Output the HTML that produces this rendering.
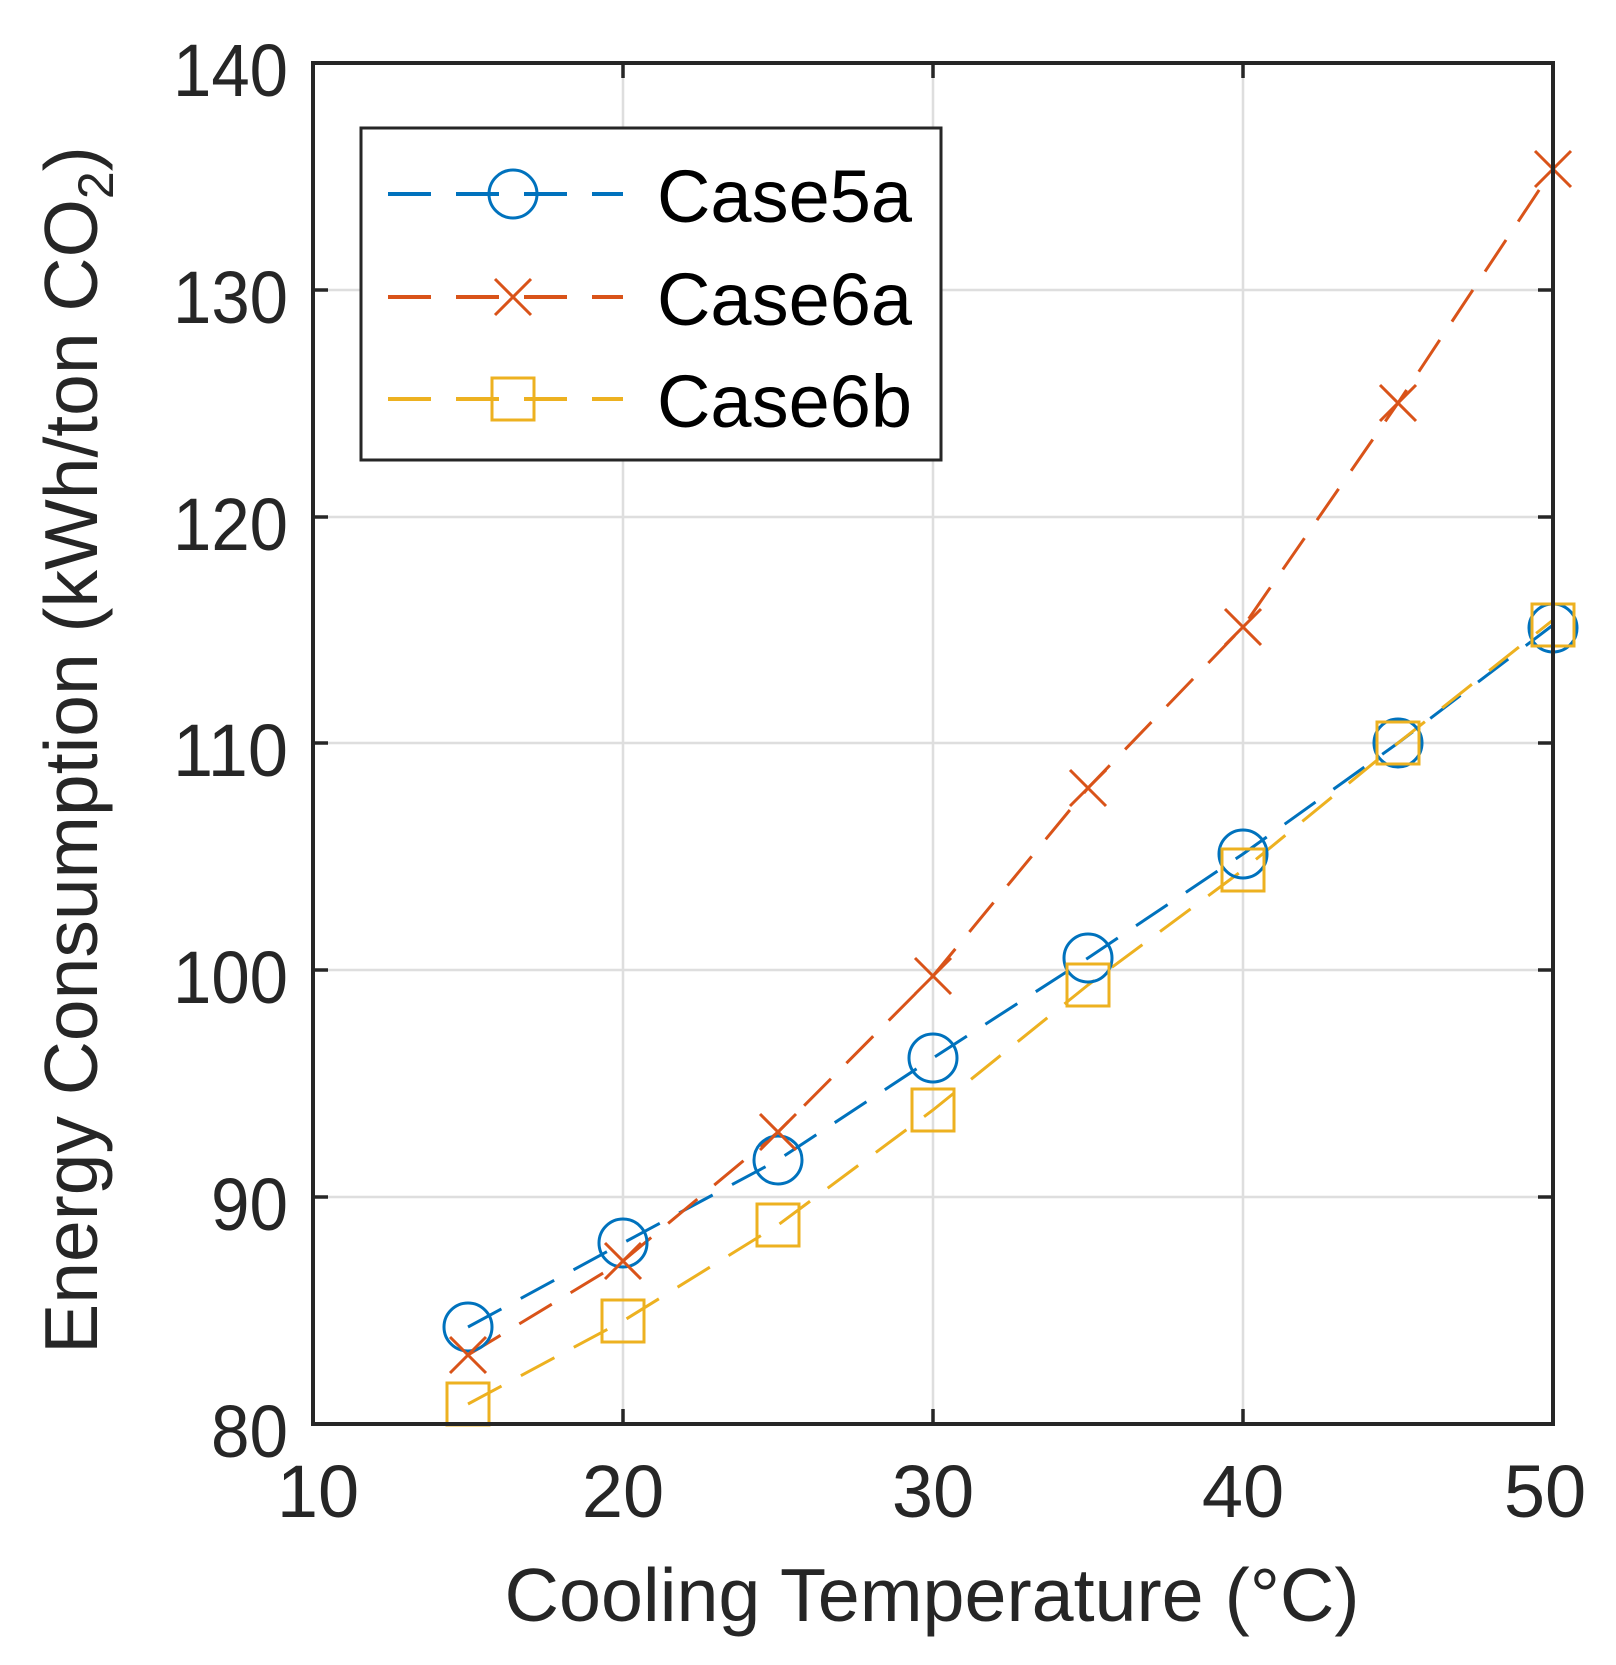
<!DOCTYPE html>
<html><head><meta charset="utf-8"><style>
html,body{margin:0;padding:0;background:#fff;}
svg{display:block;}
text{font-family:"Liberation Sans",Arial,sans-serif;fill:#262626;}
</style></head><body>
<svg width="1616" height="1665" viewBox="0 0 1616 1665" xmlns="http://www.w3.org/2000/svg">
<rect width="1616" height="1665" fill="#fff"/>
<g stroke="#dedede" stroke-width="2.5">
<line x1="623" y1="63" x2="623" y2="1424"/>
<line x1="933" y1="63" x2="933" y2="1424"/>
<line x1="1243" y1="63" x2="1243" y2="1424"/>
<line x1="313" y1="1197" x2="1553" y2="1197"/>
<line x1="313" y1="970" x2="1553" y2="970"/>
<line x1="313" y1="743" x2="1553" y2="743"/>
<line x1="313" y1="517" x2="1553" y2="517"/>
<line x1="313" y1="290" x2="1553" y2="290"/>
</g>
<g stroke="#262626" stroke-width="3.5">
<line x1="623" y1="1424" x2="623" y2="1409"/><line x1="933" y1="1424" x2="933" y2="1409"/><line x1="1243" y1="1424" x2="1243" y2="1409"/>
<line x1="623" y1="63" x2="623" y2="78"/><line x1="933" y1="63" x2="933" y2="78"/><line x1="1243" y1="63" x2="1243" y2="78"/>
<line x1="313" y1="1197" x2="328" y2="1197"/><line x1="313" y1="970" x2="328" y2="970"/><line x1="313" y1="743" x2="328" y2="743"/><line x1="313" y1="517" x2="328" y2="517"/><line x1="313" y1="290" x2="328" y2="290"/>
<line x1="1553" y1="1197" x2="1538" y2="1197"/><line x1="1553" y1="970" x2="1538" y2="970"/><line x1="1553" y1="743" x2="1538" y2="743"/><line x1="1553" y1="517" x2="1538" y2="517"/><line x1="1553" y1="290" x2="1538" y2="290"/>
</g>
<g fill="none" stroke-width="3" stroke-dasharray="38 22">
<polyline stroke="#0072BD" points="468,1327 623,1243 778,1160 933,1058 1088,958 1243,854 1398,743 1553,625"/>
<polyline stroke="#D95319" points="468,1355 623,1261 778,1132 933,976 1088,788 1243,627 1398,403 1553,169"/>
<polyline stroke="#EDB120" points="468,1404 623,1321 778,1225 933,1110 1088,985 1243,870 1398,743 1553,620"/>
</g>
<g fill="none" stroke="#0072BD" stroke-width="3">
<circle cx="468" cy="1327" r="24"/><circle cx="623" cy="1243" r="24"/><circle cx="778" cy="1160" r="24"/><circle cx="933" cy="1058" r="24"/><circle cx="1088" cy="958" r="24"/><circle cx="1243" cy="854" r="24"/><circle cx="1398" cy="743" r="24"/><circle cx="1553" cy="628" r="24"/>
</g>
<g fill="none" stroke="#D95319" stroke-width="3">
<path d="M450 1337L486 1373M486 1337L450 1373"/>
<path d="M605 1243L641 1279M641 1243L605 1279"/>
<path d="M760 1114L796 1150M796 1114L760 1150"/>
<path d="M915 958L951 994M951 958L915 994"/>
<path d="M1070 770L1106 806M1106 770L1070 806"/>
<path d="M1225 609L1261 645M1261 609L1225 645"/>
<path d="M1380 385L1416 421M1416 385L1380 421"/>
<path d="M1535 151L1571 187M1571 151L1535 187"/>
</g>
<g fill="none" stroke="#EDB120" stroke-width="3">
<rect x="447" y="1383" width="42" height="42"/><rect x="602" y="1300" width="42" height="42"/><rect x="757" y="1204" width="42" height="42"/><rect x="912" y="1089" width="42" height="42"/><rect x="1067" y="964" width="42" height="42"/><rect x="1222" y="849" width="42" height="42"/><rect x="1377" y="722" width="42" height="42"/><rect x="1532" y="604" width="42" height="42"/>
</g>
<rect x="313" y="63" width="1240" height="1361" fill="none" stroke="#262626" stroke-width="4"/>
<g font-size="74" text-anchor="end">
<text x="288" y="96" textLength="115" lengthAdjust="spacingAndGlyphs">140</text>
<text x="288" y="323" textLength="115" lengthAdjust="spacingAndGlyphs">130</text>
<text x="288" y="550" textLength="115" lengthAdjust="spacingAndGlyphs">120</text>
<text x="288" y="776" textLength="115" lengthAdjust="spacingAndGlyphs">110</text>
<text x="288" y="1003" textLength="115" lengthAdjust="spacingAndGlyphs">100</text>
<text x="288" y="1230" textLength="77" lengthAdjust="spacingAndGlyphs">90</text>
<text x="288" y="1457" textLength="77" lengthAdjust="spacingAndGlyphs">80</text>
</g>
<g font-size="74" text-anchor="middle">
<text x="318" y="1517">10</text>
<text x="623" y="1517">20</text>
<text x="933" y="1517">30</text>
<text x="1243" y="1517">40</text>
<text x="1545" y="1517">50</text>
</g>
<text x="932" y="1621" font-size="75" text-anchor="middle" textLength="855" lengthAdjust="spacingAndGlyphs">Cooling Temperature (°C)</text>
<text transform="translate(97,750) rotate(-90)" font-size="75" text-anchor="middle">Energy Consumption (kWh/ton CO<tspan font-size="50" dy="16">2</tspan><tspan dy="-16">)</tspan></text>
<rect x="361" y="128" width="580" height="332" fill="#fff" stroke="#262626" stroke-width="3"/>
<g stroke-width="4" stroke-dasharray="43 25" fill="none">
<line x1="388" y1="194" x2="623" y2="194" stroke="#0072BD"/>
<line x1="388" y1="297" x2="623" y2="297" stroke="#D95319"/>
<line x1="388" y1="399" x2="623" y2="399" stroke="#EDB120"/>
</g>
<circle cx="513" cy="194" r="24" fill="none" stroke="#0072BD" stroke-width="3"/>
<path d="M495 279L531 315M531 279L495 315" stroke="#D95319" stroke-width="3"/>
<rect x="492" y="378" width="42" height="42" fill="none" stroke="#EDB120" stroke-width="3"/>
<g font-size="74">
<text x="657" y="222" textLength="255" lengthAdjust="spacingAndGlyphs" style="fill:#000">Case5a</text>
<text x="657" y="325" textLength="255" lengthAdjust="spacingAndGlyphs" style="fill:#000">Case6a</text>
<text x="657" y="427" textLength="255" lengthAdjust="spacingAndGlyphs" style="fill:#000">Case6b</text>
</g>
</svg>
</body></html>
